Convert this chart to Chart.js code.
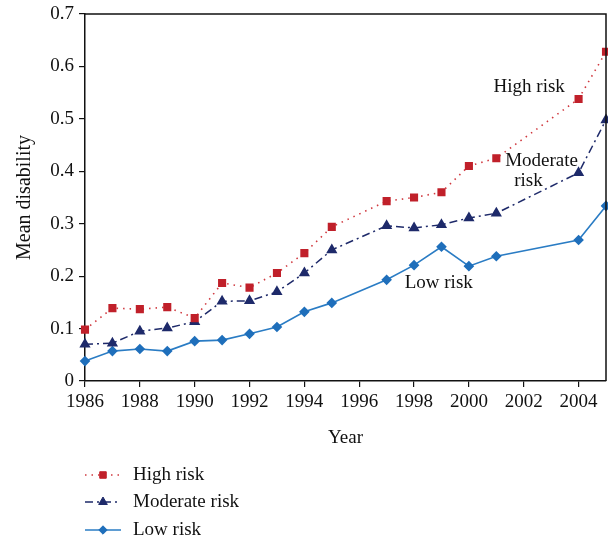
<!DOCTYPE html>
<html>
<head>
<meta charset="utf-8">
<script src="https://cdn.jsdelivr.net/npm/chart.js@4.4.1/dist/chart.umd.min.js"></script>
<style>
  html, body { margin: 0; padding: 0; background: #fff; }
  #wrap { width: 608px; height: 541px; position: relative; }
</style>
</head>
<body>
<div id="wrap"><canvas id="chart"></canvas></div>
<script>
// --- data ---
const years = [1986, 1987, 1988, 1989, 1990, 1991, 1992, 1993, 1994, 1995, 1997, 1998, 1999, 2000, 2001, 2004, 2005];
const highRisk = [0.098, 0.139, 0.137, 0.141, 0.120, 0.187, 0.178, 0.206, 0.244, 0.294, 0.343, 0.350, 0.360, 0.410, 0.425, 0.538, 0.628];
const moderateRisk = [0.070, 0.072, 0.095, 0.101, 0.113, 0.152, 0.153, 0.170, 0.206, 0.250, 0.296, 0.292, 0.298, 0.311, 0.320, 0.397, 0.498];
const lowRisk = [0.038, 0.057, 0.061, 0.057, 0.076, 0.078, 0.090, 0.103, 0.132, 0.149, 0.193, 0.221, 0.256, 0.219, 0.238, 0.269, 0.334];
const seriesNames = ['High risk', 'Moderate risk', 'Low risk'];

const FONT = '"Liberation Serif", "DejaVu Serif", serif';
const toPoints = vals => vals.map((v, i) => ({ x: years[i], y: v }));

// in-chart labels, placed in data coordinates
const curveLabels = [
    { text: 'High risk', x: 2002.2, y: 0.561 },
    { text: 'Moderate', x: 2002.65, y: 0.420 },
    { text: 'risk', x: 2002.17, y: 0.382 },
    { text: 'Low risk', x: 1998.9, y: 0.187 }
];

const frameAndLabels = {
    id: 'frameAndLabels',
    beforeDraw(chart) {
        const c = chart.ctx;
        c.save();
        c.fillStyle = '#fff';
        c.fillRect(0, 0, chart.width, chart.height);
        c.restore();
    },
    afterDraw(chart) {
        const { ctx, chartArea: a, scales: { x, y } } = chart;
        ctx.save();
        // top and right border of the box
        ctx.strokeStyle = '#111';
        ctx.lineWidth = 1.5;
        ctx.beginPath();
        ctx.moveTo(a.left, a.top);
        ctx.lineTo(a.right, a.top);
        ctx.lineTo(a.right, a.bottom);
        ctx.stroke();

        ctx.fillStyle = '#111';
        ctx.font = '19px ' + FONT;
        ctx.textAlign = 'center';
        ctx.textBaseline = 'middle';
        curveLabels.forEach(l => {
            ctx.fillText(l.text, x.getPixelForValue(l.x), y.getPixelForValue(l.y));
        });

        // legend, stacked under the x-axis
        const rowY = [475, 502, 530];
        chart.data.datasets.forEach((ds, i) => {
            const yy = rowY[i];
            ctx.strokeStyle = ds.borderColor;
            ctx.lineWidth = ds.borderWidth;
            ctx.setLineDash(ds.borderDash || []);
            ctx.beginPath();
            ctx.moveTo(85, yy);
            ctx.lineTo(121, yy);
            ctx.stroke();
            ctx.setLineDash([]);
            ctx.fillStyle = ds.pointBackgroundColor;
            ctx.strokeStyle = ds.pointBorderColor;
            ctx.lineWidth = 1;
            Chart.helpers.drawPoint(ctx, {
                pointStyle: ds.pointStyle,
                radius: ds.pointRadius,
                borderWidth: 1
            }, 103, yy);
            ctx.fillStyle = '#111';
            ctx.textAlign = 'left';
            ctx.fillText(ds.label, 133, yy);
        });
        ctx.restore();
    }
};

new Chart(document.getElementById('chart'), {
    type: 'line',
    data: {
        datasets: [
            {
                label: seriesNames[0],
                data: toPoints(highRisk),
                borderColor: '#d0393f',
                borderWidth: 1.6,
                borderDash: [1.5, 5],
                pointStyle: 'rect',
                pointRadius: 4.6,
                pointBorderColor: '#c0202a',
                pointBackgroundColor: '#c0202a',
                tension: 0,
                clip: 8
            },
            {
                label: seriesNames[1],
                data: toPoints(moderateRisk),
                borderColor: '#1e2a6a',
                borderWidth: 1.5,
                borderDash: [8, 4, 2, 4],
                pointStyle: 'triangle',
                pointRadius: 5,
                pointBorderColor: '#1e2a6a',
                pointBackgroundColor: '#1e2a6a',
                tension: 0,
                clip: 8
            },
            {
                label: seriesNames[2],
                data: toPoints(lowRisk),
                borderColor: '#2a7cc4',
                borderWidth: 1.6,
                pointStyle: 'rectRot',
                pointRadius: 4.2,
                pointBorderColor: '#1f6fbb',
                pointBackgroundColor: '#1f6fbb',
                tension: 0,
                clip: 8
            }
        ]
    },
    options: {
        responsive: true,
        maintainAspectRatio: false,
        animation: false,
        layout: { autoPadding: false, padding: { top: 14, right: 2, left: 0, bottom: 91 } },
        plugins: { legend: { display: false }, tooltip: { enabled: false } },
        scales: {
            x: {
                type: 'linear',
                min: 1986,
                max: 2005,
                afterFit: s => { s.height = 69; s.paddingLeft = 0; s.paddingRight = 0; },
                border: { display: true, color: '#111', width: 1.5 },
                grid: { display: true, drawOnChartArea: false, drawTicks: true, tickLength: 6, color: '#111', lineWidth: 1.2 },
                ticks: {
                    stepSize: 2,
                    includeBounds: false,
                    autoSkip: false,
                    maxRotation: 0,
                    color: '#111',
                    padding: 4,
                    font: { family: FONT, size: 19 },
                    callback: v => String(v)
                },
                title: { display: true, text: 'Year', color: '#111', font: { family: FONT, size: 19 }, padding: { top: 0, bottom: 1 } }
            },
            y: {
                min: 0,
                max: 0.7,
                afterFit: s => { s.width = 85; s.paddingTop = 0; s.paddingBottom = 0; },
                border: { display: true, color: '#111', width: 1.5 },
                grid: { display: true, drawOnChartArea: false, drawTicks: true, tickLength: 6, color: '#111', lineWidth: 1.2 },
                ticks: {
                    stepSize: 0.1,
                    color: '#111',
                    padding: 5,
                    font: { family: FONT, size: 19 },
                    callback: v => (v === 0 ? '0' : v.toFixed(1))
                },
                title: { display: true, text: 'Mean disability', color: '#111', font: { family: FONT, size: 20 }, padding: { top: 13, bottom: 0 } }
            }
        }
    },
    plugins: [frameAndLabels]
});
</script>
</body>
</html>
